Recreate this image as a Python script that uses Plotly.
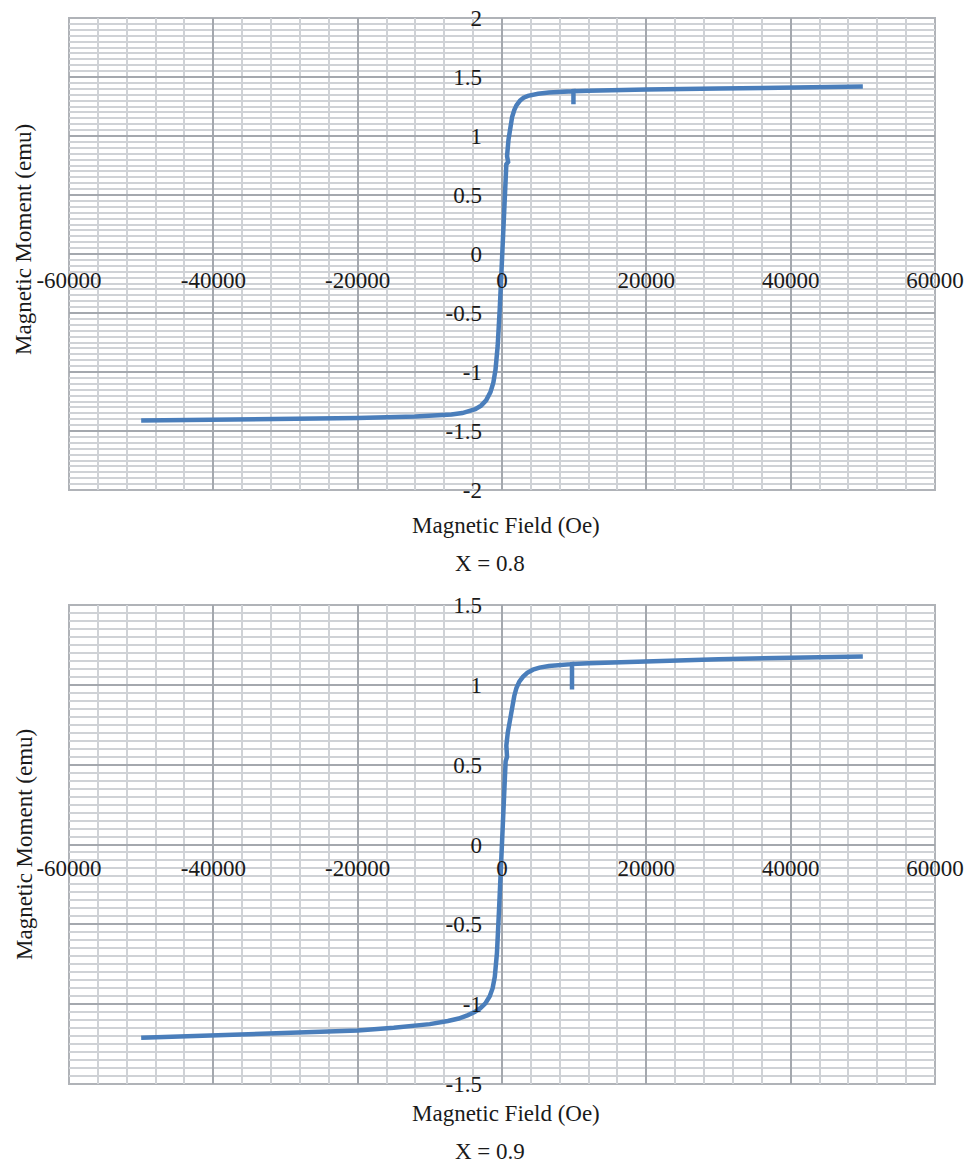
import plotly.graph_objects as go

# ---------------- data ----------------
field_08 = [-50000, -40000, -30000, -20000, -12000, -9000, -7000, -5500, -4500, -3700, -2900, -2200,
            -1600, -1200, -900, -600, -300, 0, 150, 400, 600, 850, 700, 900, 1100, 1400, 1700, 2000,
            2500, 3000, 3600, 4200, 5000, 6500, 8000, 9900, 9900, 9900, 12000, 15000, 20000, 30000,
            40000, 50000]
moment_08 = [-1.41, -1.405, -1.397, -1.39, -1.378, -1.37, -1.36, -1.348, -1.335, -1.315, -1.285, -1.24,
             -1.17, -1.09, -0.98, -0.78, -0.45, 0.00, 0.30, 0.60, 0.76, 0.78, 0.83, 0.97, 1.07, 1.16, 1.22, 1.26,
             1.30, 1.325, 1.34, 1.35, 1.358, 1.368, 1.375, 1.38, 1.27, 1.38, 1.384, 1.39, 1.395, 1.402,
             1.41, 1.42]

field_09 = [-50000, -40000, -30000, -20000, -15000, -10000, -7500, -6000, -4800, -3800, -3000, -2300,
            -1700, -1300, -1000, -700, -400, -150, 0, 200, 400, 500, 700, 600, 800, 1100, 1400, 1700, 2000,
            2400, 2900, 3500, 4300, 5200, 6500, 8000, 9700, 9700, 9700, 12000, 15000, 20000, 30000,
            40000, 50000]
moment_09 = [-1.21, -1.195, -1.18, -1.165, -1.148, -1.125, -1.105, -1.09, -1.07, -1.05, -1.025, -0.995,
             -0.95, -0.90, -0.83, -0.68, -0.40, -0.12, 0.05, 0.25, 0.45, 0.52, 0.55, 0.62, 0.70, 0.79, 0.87, 0.93,
             0.98, 1.02, 1.05, 1.075, 1.095, 1.108, 1.118, 1.125, 1.13, 0.97, 1.13, 1.135, 1.14, 1.148,
             1.16, 1.17, 1.178]

x_ticks = [-60000, -40000, -20000, 0, 20000, 40000, 60000]
x_ticklabels = ["-60000", "-40000", "-20000", "0", "20000", "40000", "60000"]
y_ticks_08 = [-2, -1.5, -1, -0.5, 0, 0.5, 1, 1.5, 2]
y_ticklabels_08 = ["-2", "-1.5", "-1", "-0.5", "0", "0.5", "1", "1.5", "2"]
y_ticks_09 = [-1.5, -1, -0.5, 0, 0.5, 1, 1.5]
y_ticklabels_09 = ["-1.5", "-1", "-0.5", "0", "0.5", "1", "1.5"]

x_title = "Magnetic Field (Oe)"
y_title = "Magnetic Moment (emu)"
captions = ["X = 0.8", "X = 0.9"]

# ---------------- layout helpers ----------------
W, H = 964, 1165
FONT = "Liberation Serif, 'Times New Roman', Times, serif"
TXT = "#1a1a1a"
LINE = "#4a7ebb"
MAJ = "#a4a8ae"
MIN = "#cfd2d6"

def px_x(p):
    return p / W

def px_y(p):
    return 1 - p / H

xdom = [px_x(69), px_x(935)]
top_ydom = [px_y(490), px_y(18)]
bot_ydom = [px_y(1084), px_y(605)]

fig = go.Figure()
fig.add_trace(go.Scatter(x=field_08, y=moment_08, mode="lines",
                         line=dict(color=LINE, width=4.5),
                         xaxis="x", yaxis="y", showlegend=False, hoverinfo="skip"))
fig.add_trace(go.Scatter(x=field_09, y=moment_09, mode="lines",
                         line=dict(color=LINE, width=4.5),
                         xaxis="x2", yaxis="y2", showlegend=False, hoverinfo="skip"))

tickfont = dict(family=FONT, size=23, color=TXT)

def xaxis(pos):
    return dict(domain=xdom, range=[-60000, 60000], anchor="free", position=pos,
                automargin=False,
                tickvals=x_ticks, ticktext=x_ticklabels, tickfont=tickfont,
                showgrid=True, gridcolor=MAJ, gridwidth=2, zeroline=False,
                showline=False, ticks="", ticklabelstandoff=9,
                minor=dict(dtick=4000, tick0=0, showgrid=True, gridcolor=MIN, gridwidth=1.8))

def yaxis(dom, rng, tv, tt, minor_dt):
    return dict(domain=dom, range=rng, anchor="free", position=px_x(502),
                automargin=False,
                tickvals=tv, ticktext=tt, tickfont=tickfont,
                showgrid=True, gridcolor=MAJ, gridwidth=2, zeroline=False,
                showline=False, ticks="", ticklabelstandoff=20,
                minor=dict(dtick=minor_dt, tick0=0, showgrid=True, gridcolor=MIN, gridwidth=1.5))

fig.update_layout(
    template="none",
    font=dict(family=FONT, size=23, color=TXT),
    width=W, height=H, margin=dict(l=0, r=0, t=0, b=0, autoexpand=False),
    paper_bgcolor="white", plot_bgcolor="white",
    xaxis=xaxis(px_y(255)),
    yaxis=yaxis(top_ydom, [-2, 2], y_ticks_08, y_ticklabels_08, 0.05),
    xaxis2=xaxis(px_y(843)),
    yaxis2=yaxis(bot_ydom, [-1.5, 1.5], y_ticks_09, y_ticklabels_09, 0.05),
)

# plot-area borders
for yd in (top_ydom, bot_ydom):
    fig.add_shape(type="rect", xref="paper", yref="paper",
                  x0=xdom[0], x1=xdom[1], y0=yd[0], y1=yd[1],
                  line=dict(color="#b0b3b8", width=2), fillcolor="rgba(0,0,0,0)", layer="below")

titlefont = dict(family=FONT, size=23, color=TXT)
ann = []
for yc in (240, 845):
    ann.append(dict(text=y_title, x=px_x(24), y=px_y(yc), xref="paper", yref="paper",
                    textangle=-90, showarrow=False, font=titlefont, xanchor="center", yanchor="middle"))
for yc, cap_y, cap in ((525, 563, captions[0]), (1113, 1151, captions[1])):
    ann.append(dict(text=x_title, x=px_x(506), y=px_y(yc), xref="paper", yref="paper",
                    showarrow=False, font=titlefont, xanchor="center", yanchor="middle"))
    ann.append(dict(text=cap, x=px_x(490), y=px_y(cap_y), xref="paper", yref="paper",
                    showarrow=False, font=titlefont, xanchor="center", yanchor="middle"))
fig.update_layout(annotations=ann)

fig.write_html("out.html")
